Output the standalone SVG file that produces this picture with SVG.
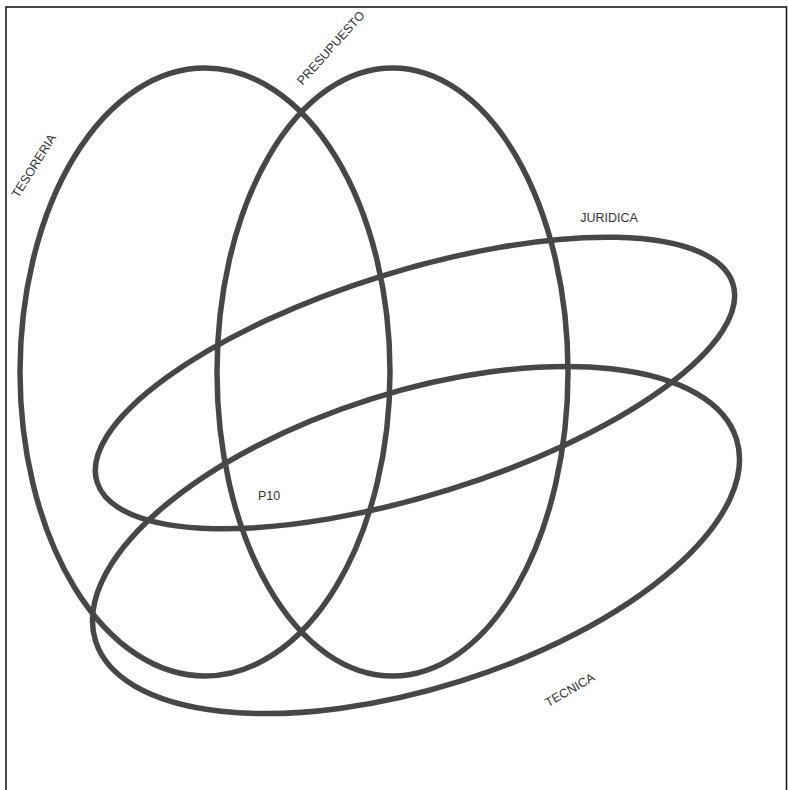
<svg xmlns="http://www.w3.org/2000/svg" width="788" height="790" viewBox="0 0 788 790">
<style>
.set{fill:none;stroke:#474747;stroke-width:5.5}
.lbl{font-family:"Liberation Sans",Arial,sans-serif;font-size:12.5px;fill:#333}
</style>
<rect x="0" y="0" width="788" height="790" fill="#fff"/>
<rect x="6" y="7" width="780.5" height="800" fill="none" stroke="#111" stroke-width="1.5"/>
<g id="tesoreria">
<ellipse class="set" cx="205" cy="372" rx="185" ry="304"/>
<text class="lbl" transform="translate(34,166) rotate(-58)" text-anchor="middle" dy="4">TESORERIA</text>
</g>
<g id="presupuesto">
<ellipse class="set" cx="392.5" cy="372" rx="175.5" ry="304"/>
<text class="lbl" transform="translate(331,48) rotate(-48)" text-anchor="middle" dy="4">PRESUPUESTO</text>
</g>
<g id="juridica">
<ellipse class="set" cx="415" cy="383" rx="333" ry="112" transform="rotate(-17.3 415 383)"/>
<text class="lbl" x="609" y="222" text-anchor="middle">JURIDICA</text>
</g>
<g id="tecnica">
<ellipse class="set" cx="416" cy="540" rx="336" ry="148" transform="rotate(-17.5 416 540)"/>
<text class="lbl" transform="translate(570,690) rotate(-30)" text-anchor="middle" dy="4">TECNICA</text>
</g>
<g id="p10">
<text class="lbl" x="258" y="500">P10</text>
</g>
<g id="connectors"/>
</svg>
